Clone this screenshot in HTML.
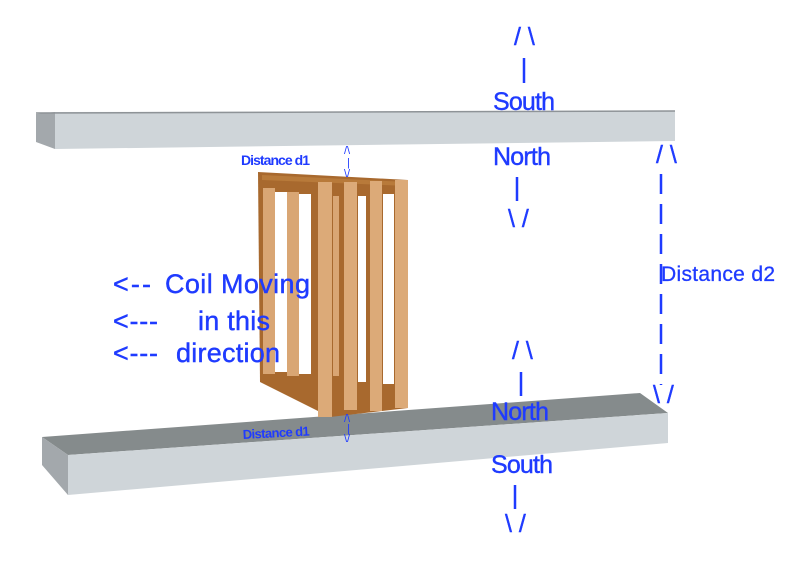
<!DOCTYPE html>
<html><head><meta charset="utf-8"><style>
html,body{margin:0;padding:0;background:#fff;}
svg{display:block;}
text{font-family:"Liberation Sans",Arial,sans-serif;fill:#1f3bff;}
</style></head><body>
<svg width="800" height="569" viewBox="0 0 800 569" xmlns="http://www.w3.org/2000/svg">
<!-- top bar -->
<polygon points="36,114 55,112 55,149 36,142" fill="#a3a8ac"/>
<polygon points="55,112 675,111 675,141 55,149" fill="#cfd5d9"/>
<line x1="36" y1="113" x2="675" y2="111" stroke="#8e9397" stroke-width="1.5"/>
<!-- bottom bar -->
<polygon points="42,437 640,393 668,413 68,455" fill="#858b8c"/>
<polygon points="68,455 668,413 668,443 68,495" fill="#cfd5d9"/>
<polygon points="42,437 68,455 68,495 42,465" fill="#a3a8ac"/>
<!-- coil -->
<polygon points="258,172 408,180 408,408 330,417 260,382" fill="#a8692e"/>
<polygon points="262,175 408,182 408,186 262,180" fill="#b87a3a"/>
<rect x="275" y="192" width="12" height="180" fill="#fff"/>
<rect x="299" y="194" width="12" height="180" fill="#fff"/>
<rect x="358" y="196" width="8" height="186" fill="#fff"/>
<rect x="383" y="194" width="11" height="190" fill="#fff"/>
<rect x="263" y="188" width="12" height="186" fill="#d9a674"/>
<rect x="287" y="192" width="12" height="184" fill="#d9a674"/>
<rect x="333" y="196" width="6" height="180" fill="#d9a674"/>
<rect x="318" y="182" width="14" height="235" fill="#dcaa78"/>
<rect x="344" y="182" width="13" height="228" fill="#dcaa78"/>
<rect x="370" y="181" width="12" height="230" fill="#dcaa78"/>
<rect x="395" y="180" width="13" height="228" fill="#dcaa78"/>
<!-- labels -->
<g font-size="25" stroke="#1f3bff" stroke-width="0.4">
<text x="514" y="45">/ \</text>
<text x="493" y="110" textLength="62">South</text>
<text x="493" y="165" textLength="58">North</text>
<text x="508" y="227">\ /</text>
<text x="512" y="359">/ \</text>
<text x="491" y="420" textLength="58">North</text>
<text x="491" y="473" textLength="62">South</text>
<text x="505" y="532">\ /</text>
<text x="656" y="163">/ \</text>
<text x="653" y="403">\ /</text>
</g>
<g stroke="#1f3bff" stroke-width="2.5">
<line x1="524" y1="58" x2="524" y2="83"/>
<line x1="517" y1="177" x2="517" y2="201"/>
<line x1="521" y1="372" x2="521" y2="396"/>
<line x1="515" y1="485" x2="515" y2="509"/>
</g>
<line x1="661" y1="174" x2="661" y2="385" stroke="#1f3bff" stroke-width="2.5" stroke-dasharray="20,10"/>
<text x="661" y="281" font-size="21" textLength="114" stroke="#1f3bff" stroke-width="0.3">Distance d2</text>
<g font-size="27" stroke="#1f3bff" stroke-width="0.4">
<text x="113" y="293" textLength="38">&lt;--</text>
<text x="165" y="293" textLength="145">Coil Moving</text>
<text x="113" y="330" textLength="45">&lt;---</text>
<text x="198" y="330" textLength="72">in this</text>
<text x="113" y="362" textLength="45">&lt;---</text>
<text x="176" y="362" textLength="104">direction</text>
</g>
<text x="241" y="165" font-size="14" font-weight="bold" textLength="69">Distance d1</text>
<text x="243" y="439" font-size="13" font-weight="bold" textLength="67" transform="rotate(-3 243 439)">Distance d1</text>
<g font-size="11">
<text x="344" y="154">/\</text>
<text x="347" y="166">|</text>
<text x="344" y="177">\/</text>
<text x="344" y="422">/\</text>
<text x="347" y="432">|</text>
<text x="344" y="442">\/</text>
</g>
</svg>
</body></html>
